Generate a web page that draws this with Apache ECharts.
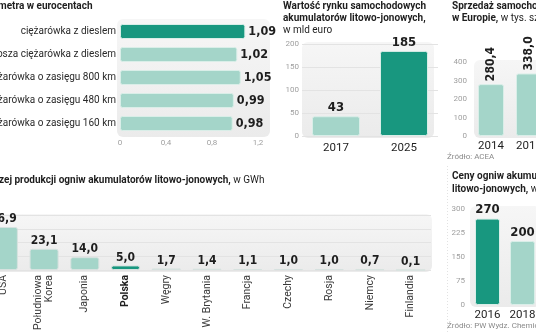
<!DOCTYPE html>
<html>
<head>
<meta charset="utf-8">
<script src="https://cdn.jsdelivr.net/npm/echarts@6/dist/echarts.min.js"></script>
<style>
  html, body { margin: 0; padding: 0; background: #ffffff; }
  #chart { width: 536px; height: 332px; }
</style>
</head>
<body>
<div id="chart"></div>
<script>
// Koszt przejechania kilometra (eurocenty)
const costLabels = ['ciężarówka z dieslem', 'osza ciężarówka z dieslem', 'żarówka o zasięgu 800 km', 'żarówka o zasięgu 480 km', 'żarówka o zasięgu 160 km'];
const costValues = [1.09, 1.02, 1.05, 0.99, 0.98];

// Wartość rynku akumulatorów (mld euro)
const marketYears = ['2017', '2025'];
const marketValues = [43, 185];

// Sprzedaż samochodów elektrycznych w Europie (tys. szt.)
const salesYears = ['2014', '2015'];
const salesValues = [280.4, 338.0];

// Produkcja ogniw (GWh)
const countries = ['USA', 'Południowa\nKorea', 'Japonia', 'Polska', 'Węgry', 'W. Brytania', 'Francja', 'Czechy', 'Rosja', 'Niemcy', 'Finlandia'];
const capacity = [46.9, 23.1, 14.0, 5.0, 1.7, 1.4, 1.1, 1.0, 1.0, 0.7, 0.1];

// Ceny ogniw
const priceYears = ['2016', '2018'];
const priceValues = [270, 200];

const DARK = '#18977f';
const LIGHT = '#a4d5c9';
const EDGE = '#d9eee8';
const TEXT = '#1e1e1e';
const TICK = '#a0a0a0';
const SANS = 'Roboto, "Open Sans", sans-serif';
const NARROW = '"Liberation Sans Narrow", "DejaVu Sans Condensed", Roboto, sans-serif';

const comma = (v, d) => v.toFixed(d).replace('.', ',');

const tickLabel = { color: TICK, fontSize: 8, fontFamily: SANS };
const valueLabel = { show: true, position: 'top', color: TEXT, fontSize: 12.5, fontWeight: 'bold', fontFamily: NARROW, distance: 2 };

function coloured(values, darkIdx) {
  return values.map((v, i) => ({
    value: v,
    itemStyle: { color: i === darkIdx ? DARK : LIGHT }
  }));
}

const barBase = {
  type: 'bar',
  itemStyle: { borderColor: EDGE, borderWidth: 1, borderRadius: 2 },
  emphasis: { disabled: true },
  z: 3
};

const panelFill = new echarts.graphic.LinearGradient(0, 0, 0, 1, [
  { offset: 0, color: '#f6f6f6' }, { offset: 1, color: '#ebebeb' }
]);
function panel(x, y, w, h) {
  return { type: 'rect', z: -10, silent: true, shape: { x, y, width: w, height: h, r: 6 }, style: { fill: panelFill } };
}
function txt(x, y, text, bold, size, color, rich) {
  return {
    type: 'text', x, y, silent: true, z: 10,
    style: {
      text, fill: color || TEXT, fontSize: size || 10,
      fontWeight: bold ? 'bold' : 'normal', fontFamily: SANS,
      verticalAlign: 'middle', rich: rich
    }
  };
}
const titleRich = {
  b: { fontWeight: 'bold', fontSize: 10, fontFamily: SANS, fill: TEXT, color: TEXT },
  n: { fontWeight: 'normal', fontSize: 10, fontFamily: SANS, fill: TEXT, color: TEXT }
};

const grids = [
  { left: 120, top: 20, width: 138, height: 115 },
  { left: 302, top: 44, width: 136, height: 92 },
  { left: 472, top: 62, width: 76, height: 74 },
  { left: -17, top: 215, width: 448, height: 55 },
  { left: 470, top: 209, width: 70, height: 96 }
].map(g => Object.assign({ containLabel: false, outerBoundsMode: 'none' }, g));

const hidden = { axisLine: { show: false }, axisTick: { show: false } };
const noSplit = { splitLine: { show: false } };

const option = {
  animation: false,
  backgroundColor: '#ffffff',
  grid: grids,
  xAxis: [
    Object.assign({ type: 'value', gridIndex: 0, min: 0, max: 1.2, interval: 0.4,
      axisLabel: Object.assign({ margin: 4, formatter: v => v === 0 ? '0' : comma(v, 1) }, tickLabel) }, hidden, noSplit),
    Object.assign({ type: 'category', gridIndex: 1, data: marketYears,
      axisLabel: { margin: 6, color: TEXT, fontSize: 11.5, fontFamily: SANS } }, hidden),
    Object.assign({ type: 'category', gridIndex: 2, data: salesYears,
      axisLabel: { margin: 4, color: TEXT, fontSize: 11.5, fontFamily: SANS } }, hidden),
    Object.assign({ type: 'category', gridIndex: 3, data: countries,
      axisLabel: { margin: 5, rotate: 90, interval: 0, color: '#3a3a3a', fontSize: 10.5, fontFamily: SANS, lineHeight: 11,
        formatter: v => v === 'Polska' ? '{b|Polska}' : v,
        rich: { b: { fontWeight: 'bold', color: '#1e1e1e', fontSize: 10.5, fontFamily: SANS } } } }, hidden),
    Object.assign({ type: 'category', gridIndex: 4, data: priceYears,
      axisLabel: { margin: 4, color: TEXT, fontSize: 11.5, fontFamily: SANS } }, hidden)
  ],
  yAxis: [
    Object.assign({ type: 'category', gridIndex: 0, data: costLabels, inverse: true,
      axisLabel: { margin: 4, color: '#2a2a2a', fontSize: 10, fontFamily: SANS } }, hidden),
    Object.assign({ type: 'value', gridIndex: 1, min: 0, max: 200, interval: 50,
      axisLabel: Object.assign({ margin: 3 }, tickLabel),
      splitLine: { lineStyle: { color: '#e3e3e3', width: 1 } } }, hidden),
    Object.assign({ type: 'value', gridIndex: 2, min: 0, max: 400, interval: 100,
      axisLabel: Object.assign({ margin: 5 }, tickLabel) }, hidden, noSplit),
    Object.assign({ type: 'value', gridIndex: 3, min: 0, max: 60, interval: 15,
      axisLabel: { show: false },
      splitLine: { lineStyle: { color: '#e3e3e3', width: 1 } } }, hidden),
    Object.assign({ type: 'value', gridIndex: 4, min: 0, max: 300, interval: 75,
      axisLabel: Object.assign({ margin: 5 }, tickLabel) }, hidden, noSplit)
  ],
  series: [
    Object.assign({}, barBase, {
      xAxisIndex: 0, yAxisIndex: 0, barWidth: 15,
      data: coloured(costValues, 0),
      label: Object.assign({}, valueLabel, { position: 'right', distance: 3, formatter: p => comma(p.value, 2) })
    }),
    Object.assign({}, barBase, {
      xAxisIndex: 1, yAxisIndex: 1, barWidth: 48,
      data: coloured(marketValues, 1),
      label: Object.assign({}, valueLabel, { fontSize: 13, formatter: p => String(p.value) })
    }),
    Object.assign({}, barBase, {
      xAxisIndex: 2, yAxisIndex: 2, barWidth: 26,
      data: coloured(salesValues, -1),
      label: Object.assign({}, valueLabel, { rotate: 90, align: 'left', verticalAlign: 'middle', distance: 3, fontSize: 12,
        formatter: p => comma(p.value, 1) })
    }),
    Object.assign({}, barBase, {
      xAxisIndex: 3, yAxisIndex: 3, barWidth: 29,
      data: coloured(capacity, 3),
      itemStyle: { borderColor: '#d6e2df', borderWidth: 1, borderRadius: 2 },
      label: Object.assign({}, valueLabel, { fontSize: 12, formatter: p => comma(p.value, 1) })
    }),
    Object.assign({}, barBase, {
      xAxisIndex: 4, yAxisIndex: 4, barWidth: 25,
      data: coloured(priceValues, 0),
      label: Object.assign({}, valueLabel, { fontSize: 13, formatter: p => String(p.value) })
    })
  ],
  graphic: [
    panel(117, 19, 153, 118),
    panel(302, 42, 132, 96),
    panel(474, 60, 70, 78),
    panel(-10, 214, 442, 58),
    panel(470, 206, 70, 101),
    { type: 'line', silent: true, z: -5, shape: { x1: 447.5, y1: 166, x2: 447.5, y2: 332 },
      style: { stroke: '#e2e2e2', lineWidth: 1, lineDash: [1, 2] } },

    txt(-2, 6, 'metra w eurocentach', true),

    txt(283, 6, 'Wartość rynku samochodowych', true),
    txt(283, 18, 'akumulatorów litowo-jonowych,', true),
    txt(283, 30, 'w mld euro', false),

    txt(452, 6, 'Sprzedaż samochodów elektrycznych', true),
    txt(452, 18, '{b|w Europie,}{n| w tys. szt.}', false, 10, TEXT, titleRich),
    txt(447, 157, 'Źródło: ACEA', false, 8, '#8a8a8a'),

    txt(-1, 180, '{b|zej produkcji ogniw akumulatorów litowo-jonowych,}{n| w GWh}', false, 10, TEXT, titleRich),

    txt(452, 176, 'Ceny ogniw akumulatorów', true),
    txt(452, 189, '{b|litowo-jonowych,}{n| w USD/kWh}', false, 10, TEXT, titleRich),
    txt(447, 326, 'Źródło: PW Wydz. Chemiczny', false, 8, '#8a8a8a')
  ]
};

const chart = echarts.init(document.getElementById('chart'), null, { renderer: 'canvas', width: 536, height: 332 });
chart.setOption(option);
</script>
</body>
</html>
